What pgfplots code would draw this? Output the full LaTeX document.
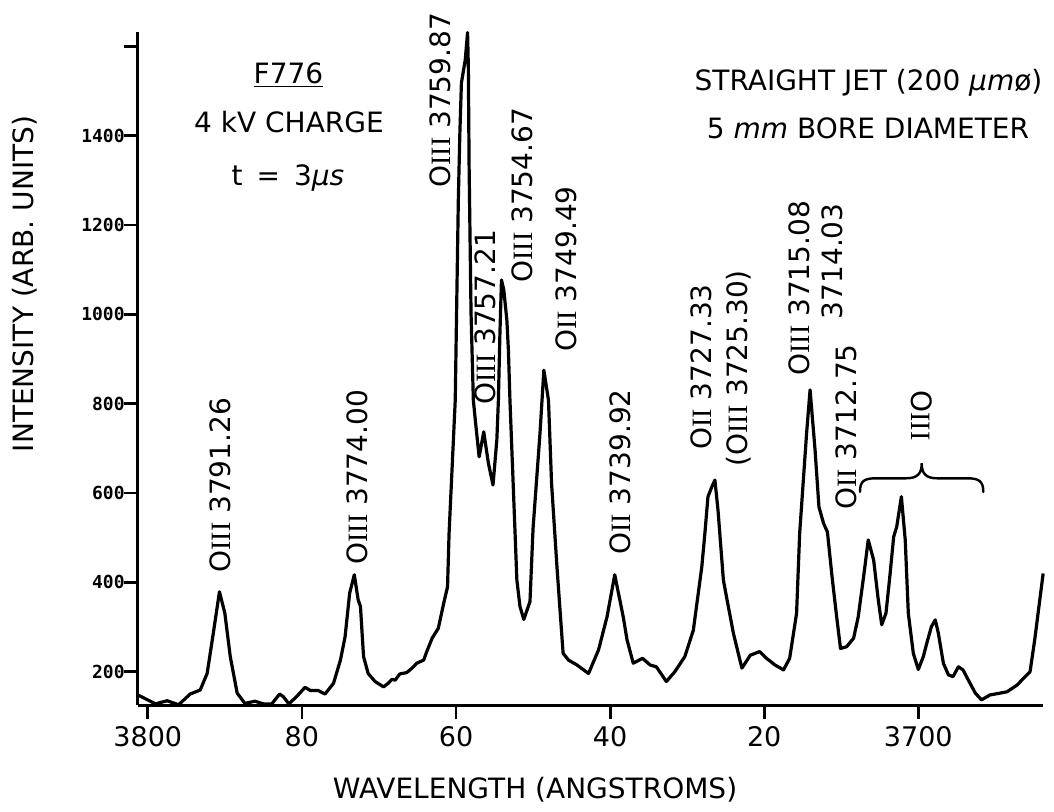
\documentclass[border=0pt]{standalone}
\usepackage{pgfplots}
\pgfplotsset{compat=1.18}
\usepackage{pgfplotstable}
\usepackage{fontspec}
\setmainfont{DejaVu Sans}
\newfontfamily\rom{Liberation Serif}
\newfontfamily\tickfont{DejaVu Sans Mono}
\newcommand{\ion}[1]{O{\rom #1}}

% Emission spectrum: wavelength (Angstrom), intensity (arb. units)
\pgfplotstableread{
wl int
3801.3 148
3800.6 142
3799.0 128
3797.5 135
3796.0 126
3794.5 150
3793.2 159
3792.3 196
3791.5 286
3790.7 379
3790.0 331
3789.3 234
3788.4 152
3787.4 129
3786.1 134
3785.0 128
3783.9 128
3782.9 150
3782.4 144
3781.7 128
3780.7 144
3779.6 165
3778.9 158
3777.9 158
3777.0 150
3775.9 174
3775.0 226
3774.4 278
3773.8 376
3773.2 417
3772.7 361
3772.4 346
3772.0 234
3771.4 196
3770.5 178
3769.4 166
3768.8 174
3768.3 183
3767.9 181
3767.3 195
3766.4 198
3765.7 208
3765.1 219
3764.2 226
3763.8 245
3763.1 275
3762.3 297
3761.6 353
3761.1 390
3760.9 510
3760.5 659
3760.1 808
3759.9 1032
3759.7 1256
3759.5 1406
3759.3 1518
3758.8 1570
3758.5 1631
3758.4 1555
3758.3 1331
3758.05 1003
3757.75 808
3757.5 764
3757.0 681
3756.4 737
3755.8 667
3755.2 618
3754.7 719
3754.5 808
3754.3 958
3754.1 1077
3753.8 1055
3753.4 987
3753.2 920
3753.0 808
3752.5 584
3752.1 405
3751.7 346
3751.2 317
3750.4 357
3750.0 521
3749.1 734
3748.6 875
3748.0 808
3747.6 622
3746.9 435
3746.1 241
3745.4 226
3744.3 215
3742.8 196
3741.5 249
3740.4 323
3739.4 417
3738.3 323
3737.8 271
3737.0 219
3735.8 230
3734.8 215
3734.0 211
3732.7 178
3731.6 200
3730.3 234
3729.2 293
3728.1 435
3727.7 510
3727.3 592
3726.8 614
3726.4 629
3726.0 562
3725.3 405
3724.9 368
3724.0 286
3722.9 208
3721.8 237
3720.6 245
3719.7 230
3718.6 215
3717.5 204
3716.7 230
3715.8 331
3715.4 510
3714.5 734
3714.05 831
3713.4 696
3712.9 569
3712.3 532
3711.8 513
3711.2 413
3710.6 323
3710.1 252
3709.3 256
3708.4 275
3707.8 323
3707.1 413
3706.5 495
3705.8 450
3705.2 361
3704.75 305
3704.2 331
3703.7 413
3703.2 502
3702.8 525
3702.2 592
3701.7 495
3701.3 331
3700.65 241
3700.0 205
3699.35 234
3698.9 264
3698.3 301
3697.8 316
3697.4 286
3696.75 219
3696.1 193
3695.5 189
3694.8 211
3694.2 204
3693.5 181
3692.6 152
3691.8 137
3690.7 148
3689.4 152
3688.5 155
3687.2 170
3685.5 200
3684.9 271
3683.8 420
}\spectrum

\begin{document}
\begin{tikzpicture}
\useasboundingbox (0,0) rectangle (527pt,405.5pt);
\begin{axis}[
  at={(68.85pt,53pt)}, anchor=south west,
  scale only axis, width=452.8pt, height=336.35pt,
  xmin=-3801.31, xmax=-3683.78, ymin=125.45, ymax=1631.5,
  axis x line=bottom, axis y line=left,
  axis line style={-, line width=1.5pt},
  tick align=outside,
  major tick length=7pt,
  every tick/.style={black, line width=1.4pt},
  xtick={-3800,-3780,-3760,-3740,-3720,-3700},
  xticklabels={3800,80,60,40,20,3700},
  ytick={200,400,...,1600},
  yticklabels={200,400,600,800,1000,1200,1400,{}},
  xticklabel style={font=\fontsize{13.5}{16}\selectfont},
  yticklabel style={font=\fontsize{9}{10}\selectfont\tickfont\bfseries, xshift=4pt},
  minor tick num=0,
  clip=false,
]
\addplot[black, line width=1.6pt, line join=round, mark=none]
  table[x expr={-\thisrow{wl}}, y=int] {\spectrum};
\end{axis}

\begin{scope}[shift={(0pt,405.5pt)}, x=0.5pt, y=-0.5pt,
  nodes={font=\fontsize{14}{17}\selectfont, inner sep=0pt}]
  % run information
  \node[anchor=base] at (288.5,83) {\underline{F776}};
  \node[anchor=base] at (289,132) {4 kV CHARGE};
  \node[anchor=base] at (288,185) {t\hspace{0.5em}=\hspace{0.5em}3\textit{μs}};
  \node[anchor=base] at (868.5,90) {STRAIGHT JET (200 \textit{μm}ø)};
  \node[anchor=base] at (868,138) {5 \textit{mm} BORE DIAMETER};
  % axis titles
  \node[anchor=base] at (535,798) {WAVELENGTH (ANGSTROMS)};
  \node[anchor=base, rotate=90] at (33,284) {INTENSITY (ARB. UNITS)};
  % line identifications
  \begin{scope}[nodes={rotate=90, anchor=base west}]
    \node at (230,573) {\ion{III} 3791.26};
    \node at (367,565) {\ion{III} 3774.00};
    \node at (450,188) {\ion{III} 3759.87};
    \node at (495,405) {\ion{III} 3757.21};
    \node at (532.5,283) {\ion{III} 3754.67};
    \node at (576,352) {\ion{II} 3749.49};
    \node at (630,555) {\ion{II} 3739.92};
    \node at (711,450) {\ion{II} 3727.33};
    \node at (747,467) {(\ion{III} 3725.30)};
    \node at (809,376) {\ion{III} 3715.08};
    \node[anchor=base east] at (842.5,203) {3714.03};
    \node at (856,510) {\ion{II} 3712.75};
  \end{scope}
  \node[rotate=-90, anchor=base west] at (911.7,390) {\ion{III}};
  % brace grouping the O III lines near 3700
  \draw[line width=1.2pt, line cap=round]
    (860,492) .. controls (860,481) and (864,478.3) .. (876,478.3)
    -- (906,478.3) .. controls (918,478.3) and (921.7,473) .. (921.7,463.3)
    .. controls (921.7,473) and (925.4,478.3) .. (937,478.3)
    -- (967,478.3) .. controls (979,478.3) and (983.3,481) .. (983.3,492);
\end{scope}
\end{tikzpicture}
\end{document}
